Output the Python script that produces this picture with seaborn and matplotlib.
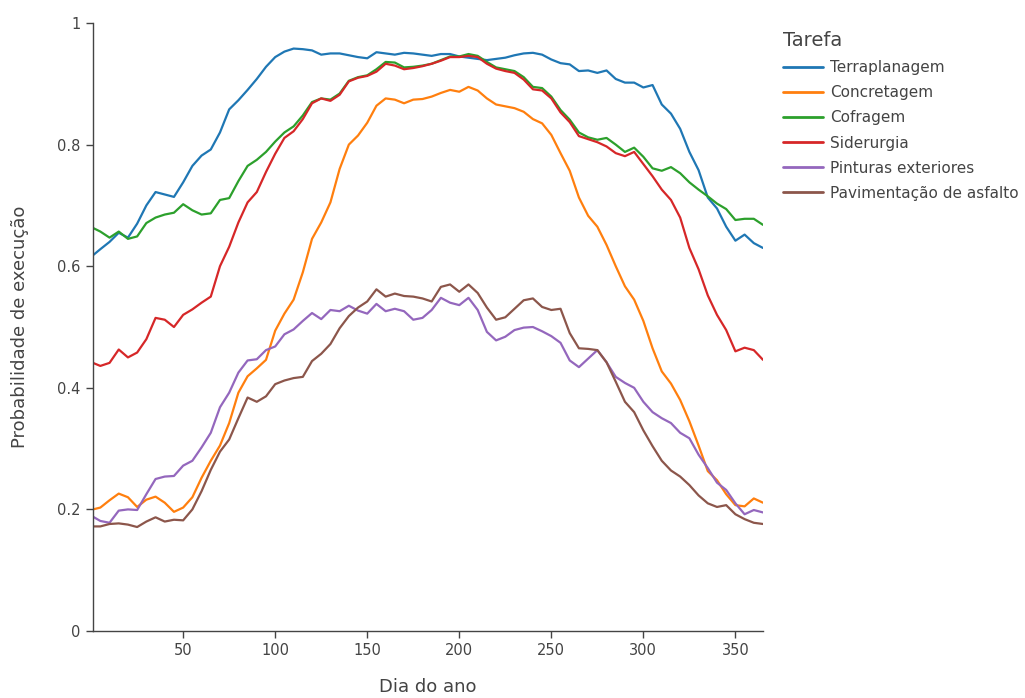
import seaborn as sns
import matplotlib.pyplot as plt
import matplotlib.ticker as mticker
import numpy as np
import pandas as pd

sns.set_theme(style="white")
plt.rcParams['font.family'] = ['DejaVu Sans']

# dias amostrados (a cada 5 dias)
dias = [1] + list(range(5, 366, 5))

terraplanagem = [0.618, 0.628, 0.640, 0.655, 0.647, 0.670, 0.700, 0.722, 0.718, 0.714,
                 0.738, 0.765, 0.782, 0.792, 0.820, 0.858, 0.873, 0.890, 0.908, 0.928,
                 0.944, 0.953, 0.958, 0.957, 0.955, 0.948, 0.950, 0.950, 0.947, 0.944,
                 0.942, 0.952, 0.950, 0.948, 0.951, 0.950, 0.948, 0.946, 0.949, 0.949,
                 0.945, 0.943, 0.941, 0.939, 0.941, 0.943, 0.947, 0.950, 0.951, 0.948,
                 0.940, 0.934, 0.932, 0.921, 0.922, 0.918, 0.922, 0.908, 0.902, 0.902,
                 0.894, 0.898, 0.866, 0.851, 0.826, 0.788, 0.758, 0.713, 0.695, 0.665,
                 0.642, 0.652, 0.638, 0.630]
concretagem = [0.200, 0.203, 0.215, 0.226, 0.220, 0.204, 0.216, 0.221, 0.211, 0.196,
               0.203, 0.220, 0.252, 0.280, 0.305, 0.342, 0.392, 0.419, 0.432, 0.446,
               0.494, 0.522, 0.545, 0.590, 0.645, 0.672, 0.705, 0.760, 0.800, 0.815,
               0.836, 0.864, 0.876, 0.874, 0.868, 0.874, 0.875, 0.879, 0.885, 0.890,
               0.887, 0.895, 0.889, 0.876, 0.866, 0.863, 0.860, 0.854, 0.842, 0.835,
               0.816, 0.786, 0.757, 0.713, 0.683, 0.665, 0.635, 0.600, 0.567, 0.545,
               0.510, 0.465, 0.427, 0.407, 0.380, 0.345, 0.305, 0.263, 0.248, 0.225,
               0.207, 0.205, 0.218, 0.211]
cofragem = [0.663, 0.657, 0.647, 0.657, 0.645, 0.649, 0.671, 0.680, 0.685, 0.688,
            0.702, 0.692, 0.685, 0.687, 0.709, 0.712, 0.740, 0.765, 0.775, 0.788,
            0.805, 0.820, 0.830, 0.848, 0.870, 0.876, 0.874, 0.884, 0.905, 0.911,
            0.914, 0.924, 0.936, 0.935, 0.927, 0.928, 0.930, 0.933, 0.939, 0.945,
            0.945, 0.949, 0.946, 0.936, 0.927, 0.924, 0.921, 0.911, 0.895, 0.893,
            0.879, 0.857, 0.841, 0.820, 0.812, 0.808, 0.811, 0.800, 0.788, 0.795,
            0.780, 0.761, 0.757, 0.763, 0.753, 0.738, 0.726, 0.715, 0.703, 0.694,
            0.676, 0.678, 0.678, 0.668]
siderurgia = [0.441, 0.436, 0.441, 0.463, 0.450, 0.458, 0.480, 0.515, 0.512, 0.500,
              0.520, 0.529, 0.540, 0.550, 0.600, 0.632, 0.672, 0.705, 0.722, 0.755,
              0.785, 0.811, 0.822, 0.842, 0.868, 0.876, 0.872, 0.882, 0.904, 0.910,
              0.913, 0.920, 0.933, 0.930, 0.924, 0.926, 0.929, 0.933, 0.938, 0.944,
              0.944, 0.946, 0.944, 0.933, 0.925, 0.921, 0.918, 0.907, 0.891, 0.889,
              0.876, 0.853, 0.837, 0.814, 0.809, 0.804, 0.797, 0.786, 0.781, 0.788,
              0.768, 0.748, 0.726, 0.709, 0.680, 0.630, 0.595, 0.552, 0.520, 0.495,
              0.460, 0.466, 0.462, 0.446]
pinturas = [0.188, 0.181, 0.178, 0.198, 0.200, 0.199, 0.225, 0.250, 0.254, 0.255,
            0.272, 0.280, 0.302, 0.326, 0.368, 0.392, 0.425, 0.445, 0.447, 0.462,
            0.468, 0.488, 0.496, 0.510, 0.523, 0.513, 0.528, 0.526, 0.535, 0.527,
            0.522, 0.538, 0.526, 0.530, 0.526, 0.512, 0.515, 0.528, 0.548, 0.540,
            0.536, 0.548, 0.528, 0.492, 0.478, 0.484, 0.495, 0.499, 0.500, 0.493,
            0.485, 0.474, 0.445, 0.434, 0.448, 0.462, 0.442, 0.418, 0.408, 0.400,
            0.377, 0.360, 0.350, 0.342, 0.326, 0.317, 0.290, 0.268, 0.244, 0.232,
            0.210, 0.192, 0.199, 0.195]
pavimentacao = [0.172, 0.172, 0.176, 0.177, 0.175, 0.171, 0.180, 0.187, 0.180, 0.183,
                0.182, 0.200, 0.230, 0.265, 0.295, 0.315, 0.350, 0.384, 0.377, 0.386,
                0.406, 0.412, 0.416, 0.418, 0.444, 0.456, 0.472, 0.498, 0.518, 0.532,
                0.542, 0.562, 0.550, 0.555, 0.551, 0.550, 0.547, 0.542, 0.566, 0.570,
                0.558, 0.570, 0.556, 0.532, 0.512, 0.516, 0.530, 0.544, 0.547, 0.533,
                0.528, 0.530, 0.490, 0.465, 0.464, 0.462, 0.442, 0.410, 0.377, 0.360,
                0.330, 0.304, 0.280, 0.264, 0.254, 0.240, 0.223, 0.210, 0.204, 0.207,
                0.192, 0.184, 0.178, 0.176]

tarefas = {
    "Terraplanagem": terraplanagem,
    "Concretagem": concretagem,
    "Cofragem": cofragem,
    "Siderurgia": siderurgia,
    "Pinturas exteriores": pinturas,
    "Pavimentação de asfalto": pavimentacao,
}

frames = []
for nome, valores in tarefas.items():
    frames.append(pd.DataFrame({"Dia do ano": dias, "Probabilidade de execução": valores, "Tarefa": nome}))
data = pd.concat(frames, ignore_index=True)

cinza = "#444444"
fig = plt.figure(figsize=(10.25, 6.98), dpi=100)
ax = fig.add_axes([0.0907, 0.096, 0.6537, 0.871])
sns.lineplot(data=data, x="Dia do ano", y="Probabilidade de execução", hue="Tarefa",
             palette="tab10", linewidth=1.6, ax=ax)

ax.set_xlim(1, 365)
ax.set_ylim(0, 1)
ax.set_xticks([50, 100, 150, 200, 250, 300, 350])
ax.set_yticks([0, 0.2, 0.4, 0.6, 0.8, 1])
ax.yaxis.set_major_formatter(mticker.FuncFormatter(lambda v, p: f"{v:g}"))
sns.despine(ax=ax)
for s in ["left", "bottom"]:
    ax.spines[s].set_color(cinza)
    ax.spines[s].set_linewidth(1.0)
ax.tick_params(axis="both", which="major", direction="out", length=5, width=1,
               color=cinza, labelcolor=cinza, labelsize=10.5, left=True, bottom=True, pad=4)
ax.set_xlabel("Dia do ano", fontsize=13, color=cinza, labelpad=14)
ax.set_ylabel("Probabilidade de execução", fontsize=13, color=cinza, labelpad=20)

leg = ax.legend(loc="upper left", bbox_to_anchor=(0.758, 0.964), bbox_transform=fig.transFigure,
                frameon=False, title="Tarefa", fontsize=11, title_fontsize=14,
                handlelength=2.6, handletextpad=0.45, labelspacing=0.66, borderaxespad=0)
leg._legend_box.align = "left"
for t in leg.get_texts():
    t.set_color(cinza)
leg.get_title().set_color(cinza)
for h in leg.get_lines():
    h.set_linewidth(2)

fig.savefig("out.png", dpi=100)
